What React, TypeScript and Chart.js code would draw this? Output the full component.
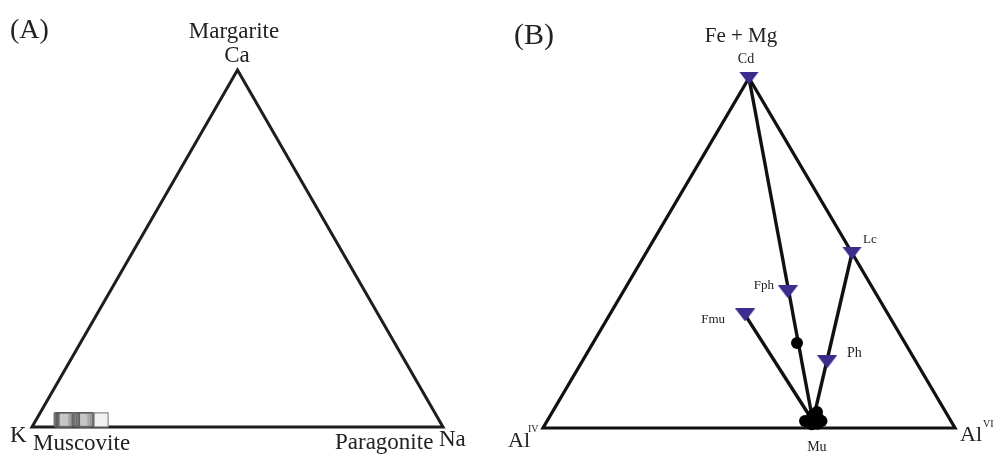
import React, { useEffect, useRef } from "react";
import { Chart, registerables } from "chart.js";

Chart.register(...registerables);

// ---------- DATA ----------
// Panel A: K – Na – Ca ternary (top = Ca, left = K, right = Na)
const A_MUSCOVITE_NA = [0.061, 0.063, 0.065, 0.067, 0.069, 0.071, 0.073, 0.107, 0.11, 0.112, 0.115, 0.117, 0.12, 0.123];
const A_MUSCOVITE_CA = [0.02, 0.02, 0.02, 0.02, 0.02, 0.02, 0.02, 0.02, 0.02, 0.02, 0.02, 0.02, 0.02, 0.02];
const A_OUTLIER_NA = [0.158];
const A_OUTLIER_CA = [0.02];

// Panel B: Al(IV) – Al(VI) – (Fe+Mg) ternary (top = Fe+Mg, left = AlIV, right = AlVI)
const B_PHASES = ["Cd", "Lc", "Fph", "Fmu", "Ph", "Mu"];
const B_FEMG = [1.0, 0.5, 0.389, 0.323, 0.189, 0.02];
const B_ALVI = [0.0, 0.5, 0.4, 0.329, 0.595, 0.645];
const B_TIE_LINES: [string, string][] = [
  ["Cd", "Mu"],
  ["Lc", "Mu"],
  ["Fmu", "Mu"],
];
const B_MARKED = ["Cd", "Lc", "Fph", "Fmu", "Ph"];
// black analysed points
const B_SAMPLE_FEMG = [0.243, 0.02, 0.036, 0.02, 0.011, 0.046, 0.028, 0.012];
const B_SAMPLE_ALVI = [0.495, 0.626, 0.636, 0.666, 0.647, 0.642, 0.654, 0.66];

// ---------- LAYOUT ----------
const W = 995;
const H = 454;
const SQ3 = Math.sqrt(3) / 2;
const PANEL_A = { left: 32, right: 443, base: 427, apex: 70 };
const PANEL_B = { left: 543, right: 955, base: 428, apex: 78 };
const SERIF = '"Liberation Serif", "Times New Roman", serif';
const TEXT_COLOR = "#222";
const MARKER_COLOR = "#3d2b8e";

const POINT_LABEL_LAYOUT: Record<string, { dx: number; dy: number; align: CanvasTextAlign; size: number }> = {
  Cd: { dx: -3, dy: -15, align: "center", size: 14 },
  Lc: { dx: 11, dy: -10, align: "left", size: 13 },
  Fph: { dx: -14, dy: -3, align: "right", size: 13 },
  Fmu: { dx: -20, dy: 8, align: "right", size: 13 },
  Ph: { dx: 20, dy: -5, align: "left", size: 14 },
  Mu: { dx: 4, dy: 30, align: "center", size: 14 },
};

const FIXED_TEXT = [
  { text: "(A)", x: 10, y: 38, size: 28, align: "left" as CanvasTextAlign },
  { text: "Margarite", x: 234, y: 38, size: 23, align: "center" as CanvasTextAlign },
  { text: "Ca", x: 237, y: 62, size: 23, align: "center" as CanvasTextAlign },
  { text: "K", x: 10, y: 442, size: 23, align: "left" as CanvasTextAlign },
  { text: "Muscovite", x: 33, y: 450, size: 23, align: "left" as CanvasTextAlign },
  { text: "Paragonite", x: 335, y: 449, size: 23, align: "left" as CanvasTextAlign },
  { text: "Na", x: 439, y: 446, size: 23, align: "left" as CanvasTextAlign },
  { text: "(B)", x: 514, y: 44, size: 30, align: "left" as CanvasTextAlign },
  { text: "Fe + Mg", x: 741, y: 42, size: 21, align: "center" as CanvasTextAlign },
  { text: "Al", x: 508, y: 447, size: 22, align: "left" as CanvasTextAlign },
  { text: "IV", x: 528, y: 432, size: 10, align: "left" as CanvasTextAlign },
  { text: "Al", x: 960, y: 441, size: 22, align: "left" as CanvasTextAlign },
  { text: "VI", x: 983, y: 427, size: 10, align: "left" as CanvasTextAlign },
];

function tern(top: number, right: number) {
  return { x: right + top / 2, y: top * SQ3 };
}

function scalesFor(p: { left: number; right: number; base: number; apex: number }) {
  const xPer = p.right - p.left;
  const xmin = -p.left / xPer;
  const yPer = (p.base - p.apex) / SQ3;
  const ymin = -(H - p.base) / yPer;
  return {
    x: { min: xmin, max: xmin + W / xPer },
    y: { min: ymin, max: ymin + H / yPer },
  };
}

function makeTriangleMarker() {
  const c = document.createElement("canvas");
  c.width = 20;
  c.height = 13;
  const g = c.getContext("2d")!;
  g.fillStyle = MARKER_COLOR;
  g.beginPath();
  g.moveTo(0, 0);
  g.lineTo(20, 0);
  g.lineTo(10, 13);
  g.closePath();
  g.fill();
  return c;
}

export default function App() {
  const ref = useRef<HTMLCanvasElement | null>(null);

  useEffect(() => {
    if (!ref.current) return;
    const sA = scalesFor(PANEL_A);
    const sB = scalesFor(PANEL_B);
    const marker = makeTriangleMarker();

    const phase = (name: string) => {
      const i = B_PHASES.indexOf(name);
      return tern(B_FEMG[i], B_ALVI[i]);
    };
    const outline = [tern(0, 0), tern(0, 1), tern(1, 0), tern(0, 0), tern(0, 1)];

    const datasets: any[] = [
      // Panel A
      {
        data: outline,
        xAxisID: "xA",
        yAxisID: "yA",
        showLine: true,
        borderColor: "#1e1e1e",
        borderWidth: 3,
        borderJoinStyle: "miter",
        pointRadius: 0,
        order: 5,
      },
      {
        data: A_MUSCOVITE_NA.map((na, i) => tern(A_MUSCOVITE_CA[i], na)),
        xAxisID: "xA",
        yAxisID: "yA",
        pointStyle: "rect",
        pointRadius: 10,
        backgroundColor: "rgba(190,190,190,0.25)",
        borderColor: "#5a5a5a",
        borderWidth: 1,
        order: 2,
      },
      {
        data: A_OUTLIER_NA.map((na, i) => tern(A_OUTLIER_CA[i], na)),
        xAxisID: "xA",
        yAxisID: "yA",
        pointStyle: "rect",
        pointRadius: 10,
        backgroundColor: "#f2f2f2",
        borderColor: "#8a8a8a",
        borderWidth: 1.2,
        order: 2,
      },
      // Panel B
      {
        data: outline,
        xAxisID: "xB",
        yAxisID: "yB",
        showLine: true,
        borderColor: "#111",
        borderWidth: 3.2,
        borderJoinStyle: "miter",
        pointRadius: 0,
        order: 5,
      },
      ...B_TIE_LINES.map(([a, b]) => ({
        data: [phase(a), phase(b)],
        xAxisID: "xB",
        yAxisID: "yB",
        showLine: true,
        borderColor: "#111",
        borderWidth: 3.4,
        pointRadius: 0,
        order: 4,
      })),
      {
        data: B_SAMPLE_FEMG.map((t, i) => tern(t, B_SAMPLE_ALVI[i])),
        xAxisID: "xB",
        yAxisID: "yB",
        pointStyle: "circle",
        pointRadius: 6,
        backgroundColor: "#000",
        borderWidth: 0,
        order: 2,
      },
      {
        data: B_MARKED.map((n) => phase(n)),
        xAxisID: "xB",
        yAxisID: "yB",
        pointStyle: marker,
        pointRadius: 9,
        order: 1,
      },
    ];

    const labelPlugin = {
      id: "labels",
      afterDraw(chart: any) {
        const ctx = chart.ctx as CanvasRenderingContext2D;
        ctx.save();
        ctx.fillStyle = TEXT_COLOR;
        ctx.textBaseline = "alphabetic";
        for (const t of FIXED_TEXT) {
          ctx.font = `${t.size}px ${SERIF}`;
          ctx.textAlign = t.align;
          ctx.fillText(t.text, t.x, t.y);
        }
        const xs = chart.scales.xB;
        const ys = chart.scales.yB;
        for (const name of B_PHASES) {
          const lay = POINT_LABEL_LAYOUT[name];
          if (!lay) continue;
          const p = phase(name);
          const px = xs.getPixelForValue(p.x);
          const py = ys.getPixelForValue(p.y);
          ctx.font = `${lay.size}px ${SERIF}`;
          ctx.textAlign = lay.align;
          ctx.fillText(name, px + lay.dx, py + lay.dy);
        }
        ctx.restore();
      },
    };

    const chart = new Chart(ref.current, {
      type: "scatter",
      data: { datasets },
      options: {
        responsive: false,
        animation: false,
        events: [],
        layout: { padding: 0, autoPadding: false },
        plugins: { legend: { display: false }, tooltip: { enabled: false } },
        scales: {
          xA: { type: "linear", axis: "x", display: false, min: sA.x.min, max: sA.x.max },
          yA: { type: "linear", axis: "y", display: false, min: sA.y.min, max: sA.y.max },
          xB: { type: "linear", axis: "x", display: false, min: sB.x.min, max: sB.x.max },
          yB: { type: "linear", axis: "y", display: false, min: sB.y.min, max: sB.y.max },
        },
      } as any,
      plugins: [labelPlugin],
    });
    return () => chart.destroy();
  }, []);

  return (
    <div style={{ position: "absolute", left: 0, top: 0, width: W, height: H, background: "#fff" }}>
      <canvas ref={ref} width={W} height={H} style={{ display: "block" }} />
    </div>
  );
}
